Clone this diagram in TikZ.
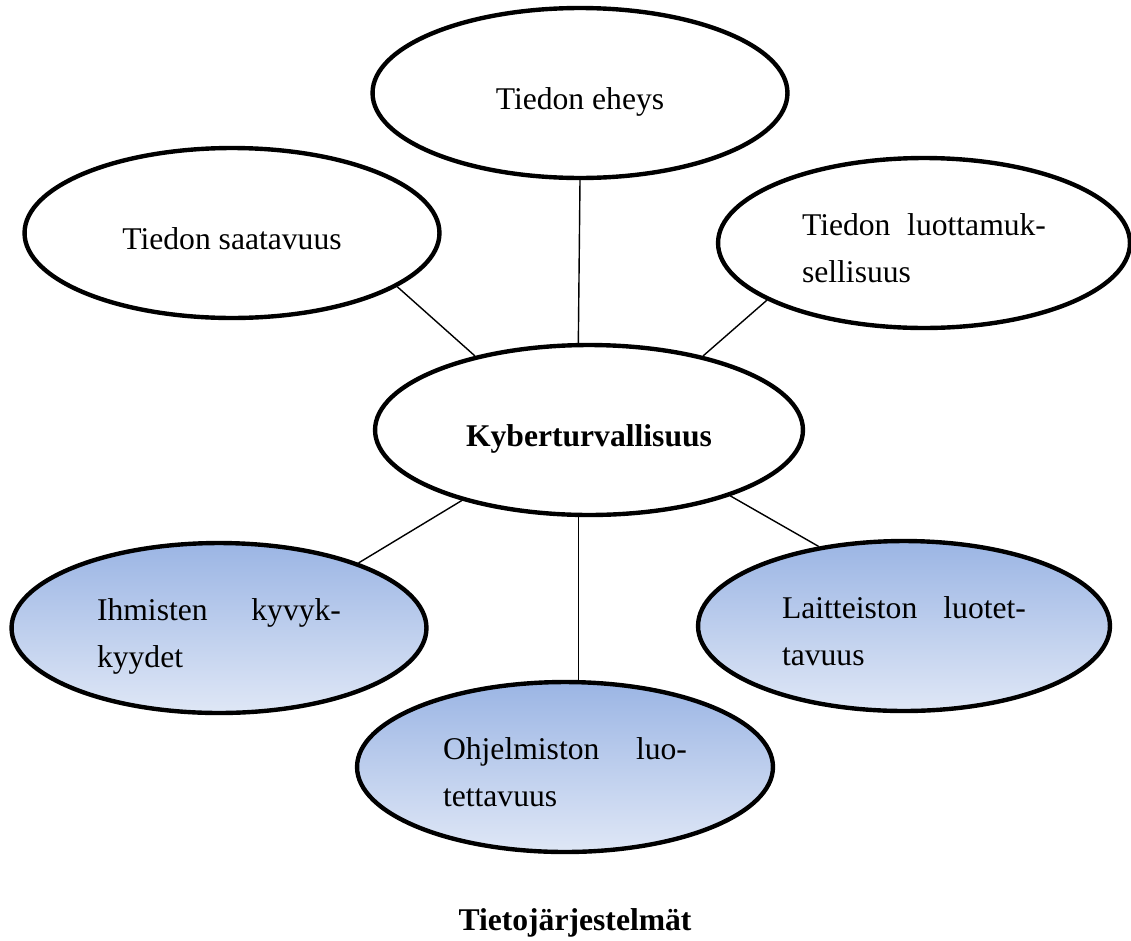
\documentclass[tikz,border=0pt]{standalone}
\usepackage{fontspec}
\setmainfont{Liberation Serif}
\usepackage{tikz}
\usetikzlibrary{shapes.geometric}
\definecolor{shadetop}{RGB}{155,181,228}
\definecolor{shadebot}{RGB}{223,231,246}
\tikzstyle{osa} = [ellipse, draw=black, line width=2.5pt, minimum width=8.3cm, minimum height=3.4cm, inner sep=0pt, text height=23pt, text depth=4pt, font=\fontsize{18}{27}\selectfont]
\tikzstyle{pari} = [osa, text width=4.88cm, align=left, text height=22pt, text depth=31pt]
\tikzstyle{laite} = [pari, top color=shadetop, bottom color=shadebot]
\tikzstyle{yhteys} = [-, draw=black, line width=0.8pt]

\begin{document}
\begin{tikzpicture}[x=0.02cm, y=-0.02cm]
\useasboundingbox (0,0) rectangle (1131,940);
\node [osa] (eheys) at (580, 93) {Tiedon eheys};
\node [osa] (saat) at (232, 233) {Tiedon saatavuus};
\node [pari, minimum width=8.24cm] (luott) at (924, 243) {Tiedon\hfill luottamuk-\\sellisuus};
\node [osa, minimum width=8.56cm, font=\fontsize{18}{27}\selectfont\bfseries] (kyber) at (589, 430) {Kyberturvallisuus};
\node [laite] (ihm) at (219, 628) {Ihmisten\hfill kyvyk-\\kyydet};
\node [laite, minimum width=8.32cm] (ohj) at (565, 767) {Ohjelmiston\hfill luo-\\tettavuus};
\node [laite, minimum width=8.24cm] (lait) at (904, 626) {Laitteiston\hfill luotet-\\tavuus};
\node [font=\fontsize{18}{27}\selectfont\bfseries, anchor=base] (otsikko) at (575, 930) {Tietojärjestelmät};
\draw [yhteys] (saat.-18) to (kyber.147);
\draw [yhteys] (eheys.south) to (kyber.97);
\draw [yhteys] (luott.200) to (kyber.33);
\draw [yhteys] (kyber.209) to (ihm.25);
\draw [yhteys] (kyber.263) to (kyber.263 |- ohj.north);
\draw [yhteys] (kyber.-25) to (lait.137);
\end{tikzpicture}
\end{document}
